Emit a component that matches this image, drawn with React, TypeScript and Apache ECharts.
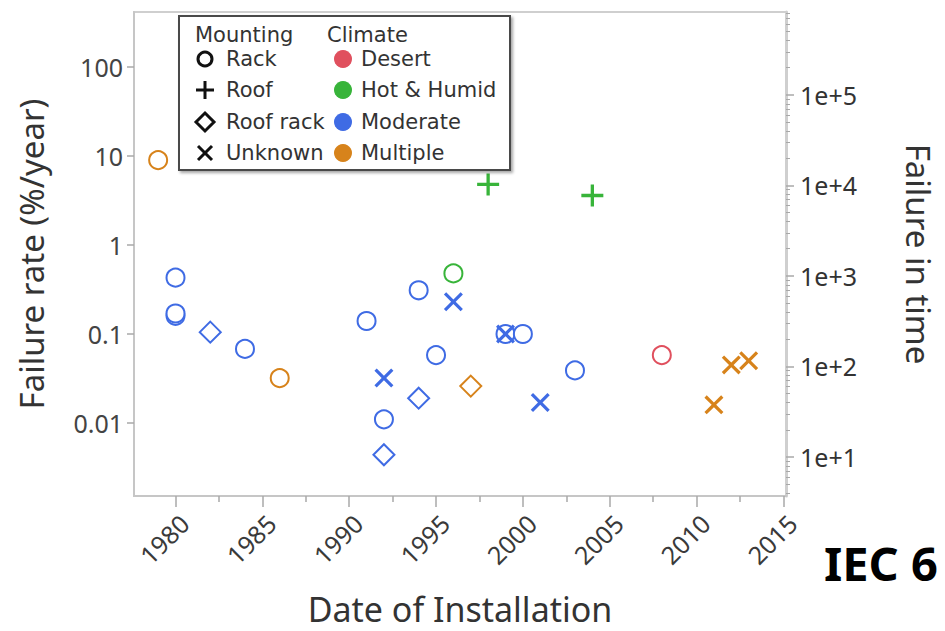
import React, { useEffect, useRef } from "react";
import * as echarts from "echarts";

// ---- data ----
const years = [1979, 1980, 1980, 1980, 1982, 1984, 1986, 1991, 1992, 1992, 1992, 1994, 1994, 1995, 1996, 1996, 1997, 1998, 1999, 1999, 2000, 2001, 2003, 2004, 2008, 2011, 2012, 2013];
const rates = [9.0, 0.43, 0.16, 0.17, 0.105, 0.068, 0.032, 0.14, 0.032, 0.011, 0.0044, 0.31, 0.019, 0.058, 0.48, 0.23, 0.026, 4.8, 0.1, 0.1, 0.1, 0.017, 0.039, 3.6, 0.058, 0.016, 0.045, 0.05];
const mounting = ["Rack", "Rack", "Rack", "Rack", "Roof rack", "Rack", "Rack", "Rack", "Unknown", "Rack", "Roof rack", "Rack", "Roof rack", "Rack", "Rack", "Unknown", "Roof rack", "Roof", "Rack", "Unknown", "Rack", "Unknown", "Rack", "Roof", "Rack", "Unknown", "Unknown", "Unknown"];
const climate = ["Multiple", "Moderate", "Moderate", "Moderate", "Moderate", "Moderate", "Multiple", "Moderate", "Moderate", "Moderate", "Moderate", "Moderate", "Moderate", "Moderate", "Hot & Humid", "Moderate", "Multiple", "Hot & Humid", "Moderate", "Moderate", "Moderate", "Moderate", "Moderate", "Hot & Humid", "Desert", "Multiple", "Multiple", "Multiple"];

const mountTypes = ["Rack", "Roof rack", "Roof", "Unknown"];
const climateTypes = ["Desert", "Hot & Humid", "Moderate", "Multiple"];
const climateColors = ["#e0505e", "#38b43a", "#3f6be4", "#d7831b"];

const xMajorTicks = [1980, 1985, 1990, 1995, 2000, 2005, 2010, 2015];
const xMinorTicks = [1982.5, 1987.5, 1992.5, 1997.5, 2002.5, 2007.5, 2012.5];
const leftTicks = [0.01, 0.1, 1, 10, 100];
const rightTicks = [10, 100, 1000, 10000, 100000];
const rightMinorMult = [2, 3, 4, 5, 6, 7, 8, 9];

const FONT = "Noto Sans";
const LEGEND_FONT = "DejaVu Sans";

const PLUS = "path://M4.25,0H5.75V4.25H10V5.75H5.75V10H4.25V5.75H0V4.25H4.25Z";
const CROSS = "path://M0,1.2L1.2,0L5,3.8L8.8,0L10,1.2L6.2,5L10,8.8L8.8,10L5,6.2L1.2,10L0,8.8L3.8,5Z";

function symbolFor(m: string) {
  if (m === "Rack") return { symbol: "emptyCircle", size: 18, border: 3.2 };
  if (m === "Roof rack") return { symbol: "emptyDiamond", size: 21, border: 3.2 };
  if (m === "Roof") return { symbol: PLUS, size: 22, border: 0 };
  return { symbol: CROSS, size: 19, border: 0 };
}

function buildSeries() {
  const out: any[] = [];
  mountTypes.forEach((m) => {
    climateTypes.forEach((c, ci) => {
      const data: number[][] = [];
      years.forEach((y, i) => {
        if (mounting[i] === m && climate[i] === c) data.push([y, rates[i]]);
      });
      if (!data.length) return;
      const s = symbolFor(m);
      const col = climateColors[ci];
      out.push({
        type: "scatter",
        name: m + " / " + c,
        xAxisIndex: 0,
        yAxisIndex: 0,
        symbol: s.symbol,
        symbolSize: s.size,
        data,
        itemStyle: s.border
          ? { color: col, borderColor: col, borderWidth: s.border, opacity: 1 }
          : { color: col, borderWidth: 0, opacity: 1 },
        emphasis: { disabled: true },
        z: 3,
      });
    });
  });
  return out;
}

function rightMinor() {
  const v: number[] = [];
  for (let d = 0; d <= 5; d++) {
    rightMinorMult.forEach((k) => v.push(k * Math.pow(10, d)));
  }
  return v.filter((x) => x > Math.pow(10, 0.569) && x < Math.pow(10, 5.917));
}

function legendGraphics() {
  const g: any[] = [];
  const txt = (x: number, y: number, t: string) => ({
    type: "text",
    x,
    y,
    z: 20,
    style: {
      text: t,
      fill: "#333",
      font: `21px "${LEGEND_FONT}"`,
      lineHeight: 21,
      verticalAlign: "middle",
      align: "left",
    },
  });
  g.push({
    type: "rect",
    shape: { x: 179, y: 16, width: 331, height: 154 },
    z: 15,
    style: {
      fill: "#fff",
      stroke: "#4a4a4a",
      lineWidth: 2,
      shadowBlur: 3,
      shadowOffsetX: 2,
      shadowOffsetY: 2,
      shadowColor: "rgba(0,0,0,0.35)",
    },
  });
  g.push(txt(195, 35, "Mounting"));
  g.push(txt(327, 35, "Climate"));
  const rows = [59, 90, 122, 153];
  const mLabels = ["Rack", "Roof", "Roof rack", "Unknown"];
  mLabels.forEach((t, i) => g.push(txt(226, rows[i], t)));
  const cLabels = ["Desert", "Hot & Humid", "Moderate", "Multiple"];
  cLabels.forEach((t, i) => g.push(txt(361, rows[i], t)));
  const sx = 205;
  const stroke = { stroke: "#111", lineWidth: 3, fill: "none" };
  g.push({ type: "circle", z: 20, shape: { cx: sx, cy: rows[0], r: 7 }, style: stroke });
  g.push({ type: "line", z: 20, shape: { x1: sx - 9, y1: rows[1], x2: sx + 9, y2: rows[1] }, style: stroke });
  g.push({ type: "line", z: 20, shape: { x1: sx, y1: rows[1] - 9, x2: sx, y2: rows[1] + 9 }, style: stroke });
  g.push({
    type: "polygon",
    z: 20,
    shape: { points: [[sx, rows[2] - 9], [sx + 9, rows[2]], [sx, rows[2] + 9], [sx - 9, rows[2]]] },
    style: stroke,
  });
  g.push({ type: "line", z: 20, shape: { x1: sx - 7, y1: rows[3] - 7, x2: sx + 7, y2: rows[3] + 7 }, style: stroke });
  g.push({ type: "line", z: 20, shape: { x1: sx - 7, y1: rows[3] + 7, x2: sx + 7, y2: rows[3] - 7 }, style: stroke });
  climateColors.forEach((c, i) =>
    g.push({ type: "circle", z: 20, shape: { cx: 343, cy: rows[i], r: 9 }, style: { fill: c } })
  );
  g.push({
    type: "text",
    x: 824,
    y: 563,
    z: 20,
    style: { text: "IEC 6", fill: "#000", font: `bold 47px "${FONT}"`, verticalAlign: "middle", align: "left" },
  });
  return g;
}

export default function App() {
  const ref = useRef<HTMLDivElement>(null);
  useEffect(() => {
    if (!ref.current) return;
    const chart = echarts.init(ref.current, undefined, { renderer: "svg" });
    const axisLineColor = "#c6c6c6";
    const tickColor = "#a8a8a8";
    const xMin = 1977.61;
    const xMax = 2015.15;
    const option: any = {
      animation: false,
      backgroundColor: "#fff",
      textStyle: { fontFamily: FONT },
      grid: {
        left: 134,
        top: 12,
        width: 652,
        height: 484,
        show: true,
        borderColor: "#cfcfcf",
        borderWidth: 2,
        backgroundColor: "transparent",
        containLabel: false,
        outerBoundsMode: "none",
      },
      xAxis: [
        {
          type: "value",
          position: "bottom",
          min: xMin,
          max: xMax,
          axisLine: { show: true, lineStyle: { color: axisLineColor, width: 2 } },
          axisTick: { show: true, customValues: xMajorTicks, length: 11, lineStyle: { color: tickColor, width: 1.5 } },
          axisLabel: {
            customValues: xMajorTicks,
            rotate: 45,
            fontSize: 25,
            color: "#3a3a3a",
            fontFamily: FONT,
            margin: 14,
            verticalAlign: "top",
            formatter: (v: number) => String(v),
          },
          splitLine: { show: false },
          name: "Date of Installation",
          nameLocation: "middle",
          nameGap: 96,
          nameTextStyle: { fontSize: 34, color: "#333", fontFamily: FONT },
        },
        {
          type: "value",
          position: "bottom",
          min: xMin,
          max: xMax,
          axisLine: { show: false },
          axisTick: { show: true, customValues: xMinorTicks, length: 6, lineStyle: { color: tickColor, width: 1.5 } },
          axisLabel: { show: false },
          splitLine: { show: false },
        },
      ],
      yAxis: [
        {
          type: "log",
          position: "left",
          min: Math.pow(10, -2.82),
          max: Math.pow(10, 2.618),
          axisLine: { show: true, lineStyle: { color: axisLineColor, width: 2 } },
          axisTick: { show: true, customValues: leftTicks, length: 7, lineStyle: { color: tickColor, width: 1.5 } },
          axisLabel: {
            customValues: leftTicks,
            fontSize: 25,
            color: "#444",
            fontFamily: FONT,
            margin: 11,
            formatter: (v: number) => (v >= 1 ? String(Math.round(v)) : String(Number(v.toPrecision(2)))),
          },
          splitLine: { show: false },
          minorTick: { show: false },
          name: "Failure rate (%/year)",
          nameLocation: "middle",
          nameGap: 86,
          nameRotate: 90,
          nameTextStyle: { fontSize: 33, color: "#333", fontFamily: FONT },
        },
        {
          type: "log",
          position: "right",
          min: Math.pow(10, 0.569),
          max: Math.pow(10, 5.917),
          axisLine: { show: true, lineStyle: { color: "#cfcfcf", width: 3 } },
          axisTick: { show: true, customValues: rightTicks, length: 8, lineStyle: { color: tickColor, width: 1.5 } },
          axisLabel: {
            customValues: rightTicks,
            fontSize: 25,
            color: "#333",
            fontFamily: FONT,
            margin: 14,
            formatter: (v: number) => "1e+" + Math.round(Math.log10(v)),
          },
          splitLine: { show: false },
          name: "Failure in time",
          nameLocation: "middle",
          nameGap: 116,
          nameRotate: -90,
          nameTextStyle: { fontSize: 33, color: "#333", fontFamily: FONT },
        },
        {
          type: "log",
          position: "right",
          min: Math.pow(10, 0.569),
          max: Math.pow(10, 5.917),
          axisLine: { show: false },
          axisTick: { show: true, customValues: rightMinor(), length: 4, lineStyle: { color: tickColor, width: 1 } },
          axisLabel: { show: false },
          splitLine: { show: false },
        },
      ],
      series: buildSeries(),
      graphic: legendGraphics(),
    };
    chart.setOption(option);
    return () => chart.dispose();
  }, []);
  return (
    <div
      ref={ref}
      style={{ position: "absolute", left: 0, top: 0, width: 945, height: 631, background: "#fff" }}
    />
  );
}
